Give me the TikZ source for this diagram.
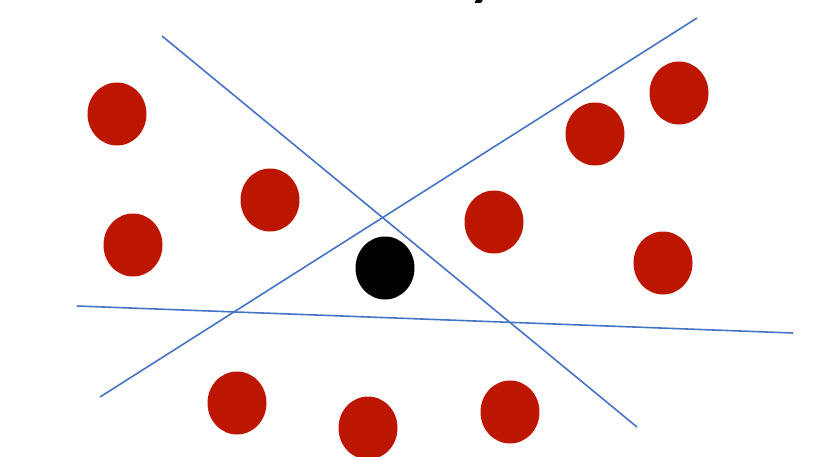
\documentclass[tikz,border=0pt]{standalone}
\usepackage{fontspec}
\setmainfont{Carlito}
\usepackage{xcolor}
\usetikzlibrary{shapes.geometric,positioning}
\definecolor{dotred}{RGB}{189, 22, 0}
\definecolor{lineblue}{RGB}{68, 114, 196}

\begin{document}
\begin{tikzpicture}[x=0.02cm, y=-0.02cm,
    pt/.style={ellipse, fill=dotred, minimum width=59*0.02cm, minimum height=63*0.02cm, inner sep=0pt},
    query/.style={pt, fill=black},
    sep/.style={lineblue, line width=0.9pt}]
    \clip (0,0) rectangle (824,456);
    \useasboundingbox (0,0) rectangle (824,456);
    % cut-off title
    \node [anchor=base, font=\fontsize{46}{50}\selectfont, inner sep=0pt] (title) at (485,-9) {y};

    % separating lines
    \coordinate (a1) at (162,36);  \coordinate (a2) at (637,427);
    \coordinate (b1) at (100,397); \coordinate (b2) at (697,18);
    \coordinate (c1) at (77,306);  \coordinate (c2) at (793,333);
    \draw [sep] (a1) -- (a2);
    \draw [sep] (b1) -- (b2);
    \draw [sep] (c1) -- (c2);

    % points
    \node [pt] (p1) at (117,114) {};
    \node [pt] (p2) at (270,200) {};
    \node [pt] (p3) at (133,245) {};
    \node [pt] (p4) at (494,222) {};
    \node [pt] (p5) at (595,134) {};
    \node [pt] (p6) at (679,93) {};
    \node [pt] (p7) at (663,263) {};
    \node [pt] (p8) at (237,403) {};
    \node [pt] (p9) at (368,428) {};
    \node [pt] (p10) at (510,412) {};
    \node [query] (q) at (385,268) {};
\end{tikzpicture}
\end{document}
